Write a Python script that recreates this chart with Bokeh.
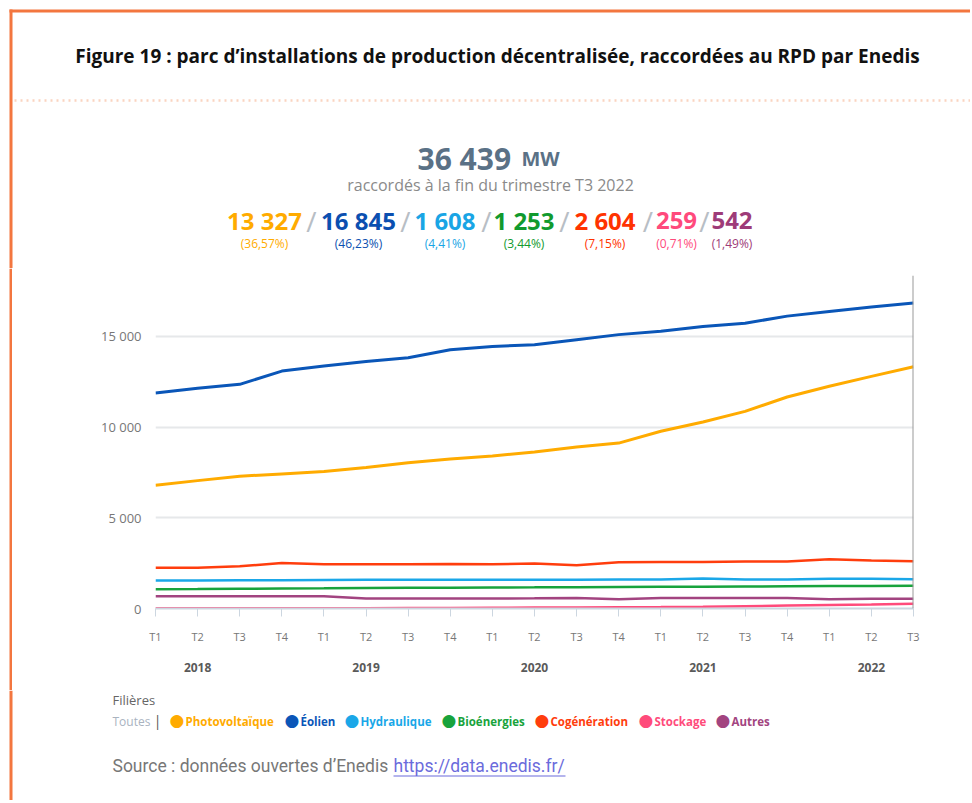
from bokeh.plotting import figure
from bokeh.layouts import column, row
from bokeh.models import (Label, BoxAnnotation, Span, LinearAxis, FixedTicker,
                          Range1d, PolyAnnotation)
from bokeh.embed import file_html
from bokeh.resources import INLINE

# ---------------- data ----------------
quarters = ["T1", "T2", "T3", "T4", "T1", "T2", "T3", "T4", "T1", "T2", "T3", "T4",
            "T1", "T2", "T3", "T4", "T1", "T2", "T3"]
years = ["2018", "2019", "2020", "2021", "2022"]
year_tick_pos = [1, 5, 9, 13, 17]

photovoltaique = [6790, 7050, 7290, 7420, 7550, 7770, 8040, 8240, 8410, 8630, 8900, 9120,
                  9770, 10280, 10870, 11660, 12250, 12800, 13327]
eolien = [11880, 12140, 12360, 13090, 13370, 13620, 13830, 14270, 14450, 14540, 14820, 15100,
          15290, 15550, 15730, 16120, 16380, 16620, 16845]
hydraulique = [1550, 1550, 1555, 1560, 1575, 1580, 1580, 1585, 1590, 1590, 1590, 1595,
               1600, 1650, 1600, 1600, 1640, 1640, 1608]
bioenergies = [1060, 1070, 1085, 1100, 1110, 1125, 1140, 1150, 1160, 1165, 1175, 1185,
               1195, 1205, 1215, 1225, 1235, 1245, 1253]
cogeneration = [2240, 2240, 2330, 2510, 2440, 2440, 2440, 2460, 2440, 2480, 2390, 2550,
                2570, 2570, 2590, 2590, 2720, 2640, 2604]
stockage = [10, 12, 14, 16, 18, 20, 25, 30, 40, 50, 60, 70, 80, 100, 130, 160, 190, 220, 259]
autres = [680, 680, 680, 680, 680, 550, 550, 550, 550, 560, 585, 510, 575, 580, 575, 575,
          510, 540, 542]

series_names = ["Photovoltaïque", "Éolien", "Hydraulique", "Bioénergies", "Cogénération",
                "Stockage", "Autres"]
series_values = [photovoltaique, eolien, hydraulique, bioenergies, cogeneration, stockage, autres]
series_colors = ["#ffab00", "#0a56b8", "#1aa7e8", "#18a33c", "#ff3d0d", "#ff4b7b", "#a24480"]
header_colors = ["#ffab00", "#0b4fb0", "#19a5e5", "#119a2e", "#ff3300", "#ff4a7c", "#9e3b78"]

total_mw = 36439
last_values = [13327, 16845, 1608, 1253, 2604, 259, 542]
last_pcts = ["36,57", "46,23", "4,41", "3,44", "7,15", "0,71", "1,49"]

y_ticks = [0, 5000, 10000, 15000]


def fmt(v):
    return f"{v:,}".replace(",", " ")


x = list(range(len(quarters)))

FONT = "Open Sans"
ORANGE = "#f3763f"
W = 970
HEAD_H = 268
MAIN_TOP, MAIN_BOT = 268, 690
FOOT_BOT = 800


def blank(width, y0, y1, x0=0):
    f = figure(width=width, height=y1 - y0, output_backend="svg", toolbar_location=None,
               x_range=Range1d(x0, x0 + width), y_range=Range1d(y1, y0),
               x_axis_type=None, y_axis_type=None, min_border=0)
    f.outline_line_color = None
    f.grid.visible = False
    f.background_fill_color = "white"
    f.border_fill_color = "white"
    f.frame_align = False
    return f


def lab(f, text, px, py, size, color, align="left", baseline="middle", style="normal",
        font=FONT):
    f.add_layout(Label(x=px, y=py, text=text, text_font=font, text_font_size=f"{size}px",
                       text_color=color, text_align=align, text_baseline=baseline,
                       text_font_style=style))


def box(f, l, r, t, b, color):
    f.add_layout(BoxAnnotation(left=l, right=r, top=t, bottom=b, fill_color=color,
                               fill_alpha=1, line_color=None))


# ---------------- header ----------------
head = blank(W, 0, HEAD_H)
box(head, 9, W, 9, 12, ORANGE)
box(head, 9, 12, 9, HEAD_H, ORANGE)
head.add_layout(PolyAnnotation(xs=[14, W], ys=[100, 100], fill_color=None,
                               line_color="#f07030", line_width=2.5, line_dash="2 4"))
lab(head, "Figure 19 : parc d’installations de production décentralisée, raccordées au RPD par Enedis",
    497, 55, 19, "#111111", align="center", style="bold", font="Open Sans")

lab(head, fmt(total_mw), 417, 158, 30, "#5a7186", baseline="alphabetic", style="bold")
lab(head, "MW", 521, 158, 20, "#5a7186", baseline="alphabetic", style="bold")
lab(head, "raccordés à la fin du trimestre T3 2022", 490, 184, 16, "#8a8a8a", align="center")

num_centers = [264, 358, 444.5, 523.5, 604.5, 676, 731.5]
slash_centers = [311, 405, 486, 564, 647.5, 704]
for v, pct, c, col in zip(last_values, last_pcts, num_centers, header_colors):
    lab(head, fmt(v), c, 220, 24, col, align="center", style="bold")
    lab(head, f"({pct}%)", c, 243, 12, col, align="center")
for c in slash_centers:
    lab(head, "/", c, 220, 28, "#b8bec5", align="center")

# ---------------- left strip beside the chart ----------------
strip = blank(12, MAIN_TOP, MAIN_BOT)
box(strip, 9, 12, MAIN_TOP, MAIN_BOT, ORANGE)

# ---------------- main chart ----------------
p = figure(width=W - 12, height=MAIN_BOT - MAIN_TOP, output_backend="svg",
           toolbar_location=None,
           x_range=Range1d(0, len(quarters) - 1), y_range=Range1d(0, 18360),
           min_border_left=155 - 12, min_border_right=W - 913, min_border_top=275 - MAIN_TOP,
           min_border_bottom=MAIN_BOT - 608)
p.frame_align = False
p.outline_line_color = None
p.background_fill_color = "white"
p.border_fill_color = "white"

p.xgrid.visible = False
p.ygrid.ticker = FixedTicker(ticks=[5000, 10000, 15000])
p.ygrid.grid_line_color = "#e6e8ea"
p.ygrid.grid_line_width = 2

p.yaxis.ticker = FixedTicker(ticks=y_ticks)
p.yaxis.major_label_overrides = {t: fmt(t) for t in y_ticks}
p.yaxis.axis_line_color = None
p.yaxis.major_tick_line_color = None
p.yaxis.minor_tick_line_color = None
p.yaxis.major_label_standoff = 8
p.yaxis.major_label_text_font = FONT
p.yaxis.major_label_text_font_size = "13px"
p.yaxis.major_label_text_color = "#777777"

p.xaxis.ticker = FixedTicker(ticks=x)
p.xaxis.major_label_overrides = {i: q for i, q in zip(x, quarters)}
p.xaxis.axis_line_color = "#ccd6e0"
p.xaxis.axis_line_width = 2
p.xaxis.major_tick_line_color = "#ccd6e0"
p.xaxis.major_tick_in = 0
p.xaxis.major_tick_out = 8
p.xaxis.minor_tick_line_color = None
p.xaxis.major_label_standoff = 12
p.xaxis.major_label_text_font = FONT
p.xaxis.major_label_text_font_size = "11px"
p.xaxis.major_label_text_color = "#777777"

year_axis = LinearAxis(ticker=FixedTicker(ticks=year_tick_pos),
                       major_label_overrides={pos: y for pos, y in zip(year_tick_pos, years)})
year_axis.axis_line_color = None
year_axis.major_tick_line_color = None
year_axis.minor_tick_line_color = None
year_axis.major_label_standoff = 10
year_axis.major_label_text_font = FONT
year_axis.major_label_text_font_size = "12px"
year_axis.major_label_text_font_style = "bold"
year_axis.major_label_text_color = "#5a5a5a"
p.add_layout(year_axis, "below")

for vals, col, name in zip(series_values, series_colors, series_names):
    lw = 3 if name in ("Éolien", "Photovoltaïque") else 2.5
    p.line(x, vals, line_color=col, line_width=lw)

p.add_layout(Span(location=x[-1], dimension="height", line_color="#9a9a9a", line_width=2))

# ---------------- footer ----------------
foot = blank(W, MAIN_BOT, FOOT_BOT)
box(foot, 9, 12, MAIN_BOT, FOOT_BOT, ORANGE)
lab(foot, "Filières", 112, 699, 13, "#666666")
lab(foot, "Toutes", 112, 721, 12, "#a9b3bf")
lab(foot, "|", 157, 720, 14, "#555555", align="center")
dot_centers = [177, 292, 352, 449, 542, 646, 723]
for name, col, dc in zip(series_names, series_colors, dot_centers):
    lab(foot, "●", dc - 0.5, 719.5, 17, col, align="center", font="DejaVu Sans")
    lab(foot, name, dc + 8, 721, 11.5, col, style="bold")

lab(foot, "Source : données ouvertes d’Enedis", 112, 765, 17.5, "#777777", font="Roboto")
lab(foot, "https://data.enedis.fr/", 393, 765, 17.5, "#6b6bdc", font="Roboto")
box(foot, 393, 565, 775, 776, "#6b6bdc")

layout = column(head, row(strip, p), foot)
open("out.html", "w").write(file_html(layout, INLINE))
